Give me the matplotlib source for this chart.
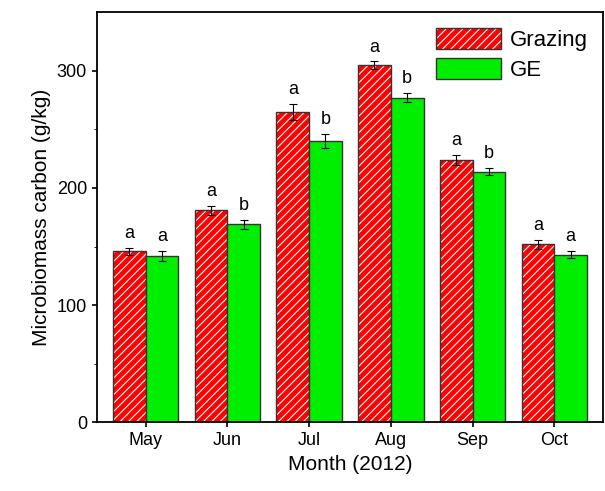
import numpy as np
from matplotlib import pyplot as plt

plt.rcParams['font.family'] = ['Liberation Sans', 'DejaVu Sans']
plt.rcParams['hatch.linewidth'] = 0.8

# %% Data.
months = ['May', 'Jun', 'Jul', 'Aug', 'Sep', 'Oct']
grazing = [146, 181, 265, 305, 224, 152]
grazing_err = [3, 4, 7, 3, 4, 4]
ge = [142, 169, 240, 277, 214, 143]
ge_err = [4, 4, 6, 4, 3, 3]
grazing_sig = ['a', 'a', 'a', 'a', 'a', 'a']
ge_sig = ['a', 'b', 'b', 'b', 'b', 'a']

# %% Plot.
fig = plt.figure(figsize=(6.05, 4.91), dpi=100)
ax = fig.add_axes([0.16, 0.14, 0.837, 0.835])
x = np.arange(len(months))
w = 0.4
# hatch in white: fill layer, then outline layer
fill = ax.bar(x - w/2, grazing, w, color='#ff0000', edgecolor='white',
              hatch='////', linewidth=0)
edge = ax.bar(x - w/2, grazing, w, yerr=grazing_err, fill=False, edgecolor='#333333',
              linewidth=1, capsize=3, error_kw=dict(elinewidth=0.8, capthick=0.8))
gbar = ax.bar(x + w/2, ge, w, yerr=ge_err, color='#00ee00', edgecolor='#333333',
              linewidth=1, capsize=3, error_kw=dict(elinewidth=0.8, capthick=0.8))
for i in range(len(months)):
    ax.text(x[i] - w/2, grazing[i] + grazing_err[i] + 5, grazing_sig[i],
            ha='center', va='bottom', fontsize=13)
    ax.text(x[i] + w/2, ge[i] + ge_err[i] + 5, ge_sig[i],
            ha='center', va='bottom', fontsize=13)

ax.set_xlim(-0.6, 5.6)
ax.set_ylim(0, 350)
ax.set_xticks(x)
ax.set_xticklabels(months)
ax.set_yticks([0, 100, 200, 300])
ax.set_yticks([50, 150, 250], minor=True)
ax.tick_params(labelsize=13, width=1.2)
ax.tick_params(which='minor', length=2.5)
for s in ax.spines.values():
    s.set_linewidth(1.3)
ax.set_xlabel('Month (2012)', fontsize=15)
ax.set_ylabel('Microbiomass carbon (g/kg)', fontsize=15)
ax.legend([(fill.patches[0], edge.patches[0]), gbar.patches[0]], ['Grazing', 'GE'],
          loc='upper right', fontsize=16, frameon=False, handlelength=2.9,
          handleheight=1.1, borderaxespad=0.3, handletextpad=0.4, labelspacing=0.3)

plt.savefig('out.png')
